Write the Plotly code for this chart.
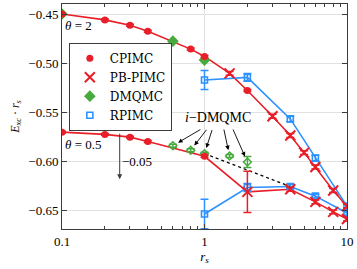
import math
import plotly.graph_objects as go

# theta = 2
cp2_x = [0.1, 0.2, 0.3, 0.4, 0.8, 1.0, 2.0]
cp2_y = [-0.450, -0.456, -0.4615, -0.4676, -0.4858, -0.4933, -0.528]
pb2_x = [1.5, 3.0, 4.0, 5.0, 6.0, 8.0, 10.0]
pb2_y = [-0.5106, -0.5543, -0.5739, -0.5914, -0.606, -0.630, -0.646]
dm2_x = [0.1, 0.6, 1.0]
dm2_y = [-0.450, -0.4777, -0.497]
rp2_x = [1.0, 2.0, 4.0, 6.0, 10.0]
rp2_y = [-0.5173, -0.5147, -0.557, -0.597, -0.646]
rp2_e = [0.0097, 0.004, 0.003, 0.003, 0.002]

# theta = 0.5 (shifted by -0.05)
cp05_x = [0.1, 0.2, 0.3, 0.4, 1.0]
cp05_y = [-0.5705, -0.5728, -0.5756, -0.580, -0.5952]
pb05_x = [2.0, 4.0, 6.0, 8.0, 10.0]
pb05_y = [-0.6314, -0.6287, -0.6416, -0.6518, -0.6591]
pb05_e = [0.021, 0.002, 0.002, 0.002, 0.002]
idm05_x = [0.6, 0.8, 1.0, 1.5, 2.0]
idm05_y = [-0.5843, -0.589, -0.5924, -0.5949, -0.601]
idm05_e = [0.0015, 0.0015, 0.0015, 0.0015, 0.0056]
rp05_x = [1.0, 2.0, 4.0, 6.0, 10.0]
rp05_y = [-0.654, -0.627, -0.626, -0.6358, -0.653]
rp05_e = [0.015, 0.004, 0.002, 0.002, 0.002]

x_ticks = [0.1, 1, 10]
x_minor = [0.2, 0.3, 0.4, 0.5, 0.6, 0.7, 0.8, 0.9, 2, 3, 4, 5, 6, 7, 8, 9]

RED = "rgb(232,30,40)"
BLUE = "rgb(45,145,255)"
GREEN = "rgb(70,170,60)"
FONT = "Liberation Serif, DejaVu Serif, serif"
AX = "rgb(60,60,60)"

fig = go.Figure()


def sorted_pair(xa, ya, xb, yb):
    pts = sorted(zip(list(xa) + list(xb), list(ya) + list(yb)))
    return [p[0] for p in pts], [p[1] for p in pts]


L = math.log10

# connecting lines
for xa, ya, xb, yb in [(cp2_x, cp2_y, pb2_x, pb2_y), (cp05_x, cp05_y, pb05_x, pb05_y)]:
    lx, ly = sorted_pair(xa, ya, xb, yb)
    fig.add_trace(go.Scatter(x=lx, y=ly, mode="lines", line=dict(color=RED, width=1.6),
                             showlegend=False, hoverinfo="skip"))
for xa, ya in [(rp2_x, rp2_y), (rp05_x, rp05_y)]:
    fig.add_trace(go.Scatter(x=xa, y=ya, mode="lines", line=dict(color=BLUE, width=1.6),
                             showlegend=False, hoverinfo="skip"))

# dotted guide line
fig.add_trace(go.Scatter(x=[idm05_x[2], rp05_x[2]], y=[idm05_y[2], rp05_y[2]], mode="lines",
                         line=dict(color="black", width=1.3, dash="dot"),
                         showlegend=False, hoverinfo="skip"))

# markers
fig.add_trace(go.Scatter(x=rp2_x + rp05_x, y=rp2_y + rp05_y, mode="markers", name="RPIMC",
                         marker=dict(symbol="square-open", size=6, color=BLUE, line=dict(width=1.6)),
                         error_y=dict(type="data", array=rp2_e + rp05_e, color=BLUE, thickness=1.5, width=4),
                         legendrank=4))
fig.add_trace(go.Scatter(x=dm2_x, y=dm2_y, mode="markers", name="DMQMC",
                         marker=dict(symbol="diamond", size=9, color=GREEN),
                         error_y=dict(type="data", array=[0.001] * len(dm2_x), color=GREEN, thickness=1.5, width=4),
                         legendrank=3))
fig.add_trace(go.Scatter(x=idm05_x, y=idm05_y, mode="markers", showlegend=False,
                         marker=dict(symbol="diamond-open", size=6, color=GREEN, line=dict(width=1.5)),
                         error_y=dict(type="data", array=idm05_e, color=GREEN, thickness=1.5, width=4)))
fig.add_trace(go.Scatter(x=cp2_x + cp05_x, y=cp2_y + cp05_y, mode="markers", name="CPIMC",
                         marker=dict(symbol="circle", size=7, color=RED),
                         error_y=dict(type="data", array=[0.001] * (len(cp2_x) + len(cp05_x)), color=RED,
                                      thickness=1.5, width=4),
                         legendrank=1))
fig.add_trace(go.Scatter(x=pb2_x + pb05_x, y=pb2_y + pb05_y, mode="markers", name="PB-PIMC",
                         marker=dict(symbol="x-thin", size=10, color=RED, line=dict(width=2, color=RED)),
                         error_y=dict(type="data", array=[0.002] * len(pb2_x) + pb05_e, color=RED,
                                      thickness=1.5, width=4),
                         legendrank=2))

# annotations (log axis -> annotation x in log10 units)
ann = []
ann.append(dict(x=L(0.102), y=-0.4615, xref="x", yref="y", text="<i>θ</i> = 2", showarrow=False,
                xanchor="left", font=dict(family=FONT, size=13, color="black")))
ann.append(dict(x=L(0.102), y=-0.5735, xref="x", yref="y", text="<i>θ</i> = 0.5", showarrow=False,
                xanchor="left", yanchor="top", font=dict(family=FONT, size=13, color="black")))
ann.append(dict(x=L(0.254), y=-0.6185, xref="x", yref="y", ax=0, ay=-47, text="", showarrow=True,
                arrowhead=2, arrowsize=1, arrowwidth=1, arrowcolor=AX))
ann.append(dict(x=L(0.257), y=-0.600, xref="x", yref="y", text="−0.05", showarrow=False,
                xanchor="left", font=dict(family=FONT, size=13, color="black")))
ann.append(dict(x=L(1.25), y=-0.5555, xref="x", yref="y", text="<i>i</i>−DMQMC", showarrow=False,
                font=dict(family=FONT, size=14, color="black")))
offsets = [(29, -17), (17, -22), (8, -25), (-6, -28), (-15, -34)]
for (xv, yv), (dx, dy) in zip(zip(idm05_x, idm05_y), offsets):
    ann.append(dict(x=L(xv), y=yv, xref="x", yref="y", ax=dx, ay=dy, text="", showarrow=True,
                    arrowhead=2, arrowsize=1, arrowwidth=0.9, arrowcolor="black", standoff=6))

fig.update_layout(
    width=357, height=269,
    margin=dict(l=62, r=8, t=3, b=40),
    paper_bgcolor="white", plot_bgcolor="white",
    font=dict(family=FONT, size=12, color="black"),
    annotations=ann,
    legend=dict(x=0.024, y=0.828, xanchor="left", yanchor="top",
                bordercolor=AX, borderwidth=1, bgcolor="white",
                font=dict(family="DejaVu Serif, serif", size=12), tracegroupgap=0, itemwidth=30),
    xaxis=dict(type="log", range=[-1, 1], tickvals=x_ticks, ticktext=["0.1", "1", "10"],
               showgrid=True, gridcolor="rgb(225,225,225)",
               ticks="inside", ticklen=5, tickcolor=AX, mirror="allticks",
               showline=True, linecolor=AX, linewidth=1,
               minor=dict(tickmode="array", tickvals=x_minor, ticks="inside", ticklen=3,
                          tickcolor=AX, showgrid=False),
               tickfont=dict(family=FONT, size=13),
               title=dict(text="<i>r<sub>s</sub></i>", font=dict(family=FONT, size=13), standoff=2),
               zeroline=False),
    yaxis=dict(range=[-0.6693, -0.4398], dtick=0.05, tick0=-0.45, tickformat=".2f",
               showgrid=True, gridcolor="rgb(225,225,225)",
               ticks="inside", ticklen=5, tickcolor=AX, mirror="allticks",
               showline=True, linecolor=AX, linewidth=1,
               tickfont=dict(family=FONT, size=13),
               title=dict(text="<i>E<sub>xc</sub></i> · <i>r<sub>s</sub></i>", font=dict(family=FONT, size=12),
                          standoff=6),
               zeroline=False),
)

fig.write_html("out.html", config={"displayModeBar": False},
               post_script="document.body.style.margin='0px';")
